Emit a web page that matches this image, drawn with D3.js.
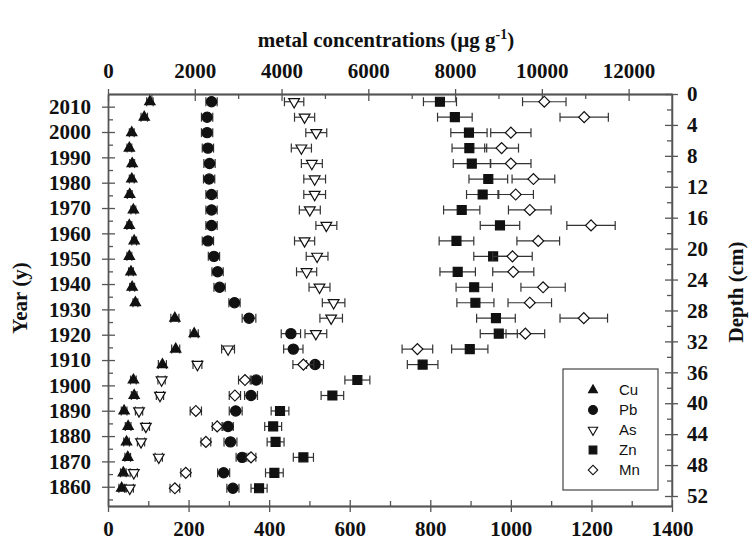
<!DOCTYPE html>
<html>
<head>
<meta charset="utf-8">
<script src="https://cdn.jsdelivr.net/npm/d3@7"></script>
<style>
  body { margin: 0; background: #fff; }
  svg text { font-family: "Liberation Serif", "Times New Roman", serif; font-weight: bold; fill: #111; }
  svg .legend text { font-family: "Liberation Sans", Arial, sans-serif; font-weight: normal; }
</style>
</head>
<body>
<svg id="chart" width="749" height="542"></svg>
<script>
// sample depths (cm), one row per slice
const depths = [1, 3, 5, 7, 9, 11, 13, 15, 17, 19, 21, 23, 25, 27, 29, 31, 33, 35, 37, 39, 41, 43, 45, 47, 49, 51];

// values read against the bottom axis (0-1400)
const cu    = [104, 90, 59, 53, 60, 59, 54, 63, 53, 65, 53, 57, 60, 68, 166, 214, 168, 135, 63, 65, 40, 50, 46, 49, 38, 34];
const cuErr = [8, 8, 6, 6, 6, 6, 6, 6, 6, 6, 6, 6, 6, 6, 10, 10, 10, 10, 7, 7, 7, 7, 7, 7, 7, 7];
const pb    = [257, 246, 246, 248, 252, 251, 257, 257, 257, 248, 263, 272, 277, 314, 350, 454, 460, 514, 368, 355, 317, 298, 304, 333, 287, 310];
const pbErr = [14, 14, 14, 14, 14, 14, 14, 14, 14, 14, 14, 14, 14, 14, 17, 24, 24, 21, 15, 16, 16, 13, 16, 15, 15, 15];
const as    = [462, 488, 517, 480, 506, 513, 513, 501, 542, 488, 519, 493, 525, 560, 554, 516, 298, 222, 133, 129, 77, 94, 82, 126, 64, 54];
const asErr = [24, 25, 26, 25, 26, 27, 27, 26, 26, 25, 27, 25, 26, 28, 28, 27, 16, 11, 9, 9, 9, 9, 9, 9, 9, 9];
const zn    = [824, 861, 896, 897, 903, 944, 930, 878, 973, 865, 956, 868, 909, 912, 963, 970, 898, 781, 619, 557, 427, 410, 416, 485, 413, 375];
const znErr = [41, 43, 45, 43, 46, 48, 40, 45, 49, 43, 48, 44, 45, 46, 48, 46, 45, 38, 31, 28, 22, 21, 21, 25, 22, 20];
const mn    = [1083, 1182, 1000, 977, 1000, 1056, 1012, 1047, 1199, 1068, 1004, 1006, 1080, 1047, 1181, 1036, 768, 485, 340, 315, 218, 271, 243, 355, 193, 166];
const mnErr = [54, 60, 50, 42, 50, 53, 44, 53, 60, 53, 49, 51, 55, 54, 59, 48, 38, 26, 16, 14, 14, 12, 12, 12, 12, 12];

const seriesNames = ["Cu", "Pb", "As", "Zn", "Mn"];

const yearTicks  = [1860, 1870, 1880, 1890, 1900, 1910, 1920, 1930, 1940, 1950, 1960, 1970, 1980, 1990, 2000, 2010];
const depthTicks = [0, 4, 8, 12, 16, 20, 24, 28, 32, 36, 40, 44, 48, 52];
const topTicks   = [0, 2000, 4000, 6000, 8000, 10000, 12000];
const botTicks   = [0, 200, 400, 600, 800, 1000, 1200, 1400];

const pLeft = 108, pRight = 672, pTop = 94, pBottom = 506;

const svg = d3.select("#chart");

const x = d3.scaleLinear().domain([0, 1400]).range([pLeft, pRight]);
const xTop = d3.scaleLinear().domain([0, 13000]).range([pLeft, pRight]);
const yDepth = d3.scaleLinear().domain([0, 52]).range([pTop, 496]);
const yYear = d3.scaleLinear().domain([1852.4, 2015]).range([pBottom, pTop]);

const axisColor = "#555";
const fmt = d3.format("d");

function styleAxis(g) {
    g.selectAll("path.domain").attr("stroke", axisColor).attr("stroke-width", 1.3);
    g.selectAll(".tick line").attr("stroke", axisColor).attr("stroke-width", 1.3);
    g.selectAll(".tick text").attr("font-size", "21px").attr("fill", "#111");
    g.attr("font-family", null).attr("font-size", null);
}

// left: year
const gl = svg.append("g").attr("transform", `translate(${pLeft},0)`);
gl.call(d3.axisLeft(yYear).tickValues(yearTicks).tickFormat(fmt).tickSize(6).tickPadding(11).tickSizeOuter(0)).call(styleAxis);
gl.append("g").call(d3.axisLeft(yYear).tickValues(yearTicks).tickFormat("").tickSize(-7).tickSizeOuter(0)).call(styleAxis);
gl.append("g").call(d3.axisLeft(yYear).tickValues(d3.range(1855, 2015, 10)).tickFormat("").tickSize(-5).tickSizeOuter(0)).call(styleAxis);

// right: depth
const gr = svg.append("g").attr("transform", `translate(${pRight},0)`);
gr.call(d3.axisRight(yDepth).tickValues(depthTicks).tickFormat(fmt).tickSize(6).tickPadding(9).tickSizeOuter(0)).call(styleAxis);
gr.append("g").call(d3.axisRight(yDepth).tickValues(depthTicks).tickFormat("").tickSize(-7).tickSizeOuter(0)).call(styleAxis);
gr.append("g").call(d3.axisRight(yDepth).tickValues(d3.range(2, 52, 4)).tickFormat("").tickSize(-5).tickSizeOuter(0)).call(styleAxis);
gr.select("path.domain").attr("d", `M0,${pTop}V${pBottom}`);

// top: concentrations
const gt = svg.append("g").attr("transform", `translate(0,${pTop})`);
gt.call(d3.axisTop(xTop).tickValues(topTicks).tickFormat(fmt).tickSize(5).tickPadding(11).tickSizeOuter(0)).call(styleAxis);
gt.append("g").call(d3.axisTop(xTop).tickValues(topTicks).tickFormat("").tickSize(-7).tickSizeOuter(0)).call(styleAxis);
gt.append("g").call(d3.axisTop(xTop).tickValues(d3.range(1000, 13000, 2000)).tickFormat("").tickSize(-5).tickSizeOuter(0)).call(styleAxis);

// bottom
const gb = svg.append("g").attr("transform", `translate(0,${pBottom})`);
gb.call(d3.axisBottom(x).tickValues(botTicks).tickFormat(fmt).tickSize(6).tickPadding(9).tickSizeOuter(0)).call(styleAxis);
gb.append("g").call(d3.axisBottom(x).tickValues(botTicks).tickFormat("").tickSize(-6).tickSizeOuter(0)).call(styleAxis);
gb.append("g").call(d3.axisBottom(x).tickValues(d3.range(100, 1400, 200)).tickFormat("").tickSize(-5).tickSizeOuter(0)).call(styleAxis);

// axis titles
const title = svg.append("text")
    .attr("x", (pLeft + pRight) / 2 - 4)
    .attr("y", 47)
    .attr("text-anchor", "middle")
    .attr("font-size", "21px");
title.append("tspan").text("metal concentrations (µg g");
title.append("tspan").attr("font-size", "14px").attr("dy", -8).text("-1");
title.append("tspan").attr("dy", 8).text(")");

svg.append("text")
    .attr("transform", "translate(27,298) rotate(-90)")
    .attr("text-anchor", "middle")
    .attr("font-size", "21px")
    .text("Year (y)");

svg.append("text")
    .attr("transform", "translate(743,292) rotate(-90)")
    .attr("text-anchor", "middle")
    .attr("font-size", "21px")
    .text("Depth (cm)");

// markers
const shapes = {
    Cu: { type: d3.symbolTriangle, size: 46, rot: 0, fill: "#111" },
    Pb: { type: d3.symbolCircle, size: 82, rot: 0, fill: "#111" },
    As: { type: d3.symbolTriangle, size: 50, rot: 180, fill: "#fff" },
    Zn: { type: d3.symbolSquare, size: 80, rot: 0, fill: "#111" },
    Mn: { type: d3.symbolSquare, size: 60, rot: 45, fill: "#fff" }
};

const seriesData = [
    { name: "Cu", vals: cu, errs: cuErr },
    { name: "Pb", vals: pb, errs: pbErr },
    { name: "As", vals: as, errs: asErr },
    { name: "Zn", vals: zn, errs: znErr },
    { name: "Mn", vals: mn, errs: mnErr }
];

const plot = svg.append("g");

seriesData.forEach(s => {
    const rows = depths.map((d, i) => ({ depth: d, v: s.vals[i], e: s.errs[i] }));
    const sh = shapes[s.name];
    const g = plot.append("g").attr("class", "series-" + s.name);

    const eb = g.selectAll("g.err").data(rows).join("g").attr("class", "err")
        .attr("stroke", "#333").attr("stroke-width", 1.2);
    eb.append("line")
        .attr("x1", d => x(d.v - d.e)).attr("x2", d => x(d.v + d.e))
        .attr("y1", d => yDepth(d.depth)).attr("y2", d => yDepth(d.depth));
    eb.append("line")
        .attr("x1", d => x(d.v - d.e)).attr("x2", d => x(d.v - d.e))
        .attr("y1", d => yDepth(d.depth) - 4.5).attr("y2", d => yDepth(d.depth) + 4.5);
    eb.append("line")
        .attr("x1", d => x(d.v + d.e)).attr("x2", d => x(d.v + d.e))
        .attr("y1", d => yDepth(d.depth) - 4.5).attr("y2", d => yDepth(d.depth) + 4.5);

    g.selectAll("path.mark").data(rows).join("path").attr("class", "mark")
        .attr("d", d3.symbol().type(sh.type).size(sh.size))
        .attr("transform", d => `translate(${x(d.v)},${yDepth(d.depth)}) rotate(${sh.rot})`)
        .attr("fill", sh.fill)
        .attr("stroke", "#111")
        .attr("stroke-width", 1.2);
});

// legend
const legend = svg.append("g").attr("class", "legend");
legend.append("rect")
    .attr("x", 563).attr("y", 369)
    .attr("width", 95).attr("height", 121)
    .attr("fill", "#fff").attr("stroke", "#444").attr("stroke-width", 1.2);

seriesNames.forEach((name, i) => {
    const sh = shapes[name];
    const yy = 390 + i * 20;
    legend.append("path")
        .attr("d", d3.symbol().type(sh.type).size(sh.size * 0.75))
        .attr("transform", `translate(593,${yy}) rotate(${sh.rot})`)
        .attr("fill", sh.fill)
        .attr("stroke", "#111")
        .attr("stroke-width", 1.1);
    legend.append("text")
        .attr("x", 619)
        .attr("y", yy)
        .attr("dy", "0.36em")
        .attr("font-size", "15px")
        .text(name);
});
</script>
</body>
</html>
